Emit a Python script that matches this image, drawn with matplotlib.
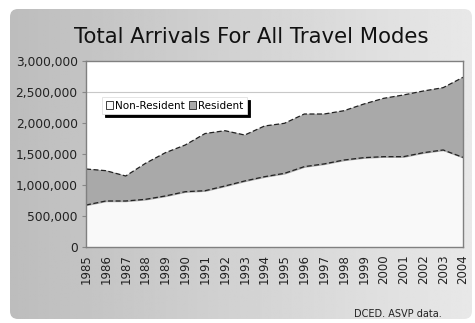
import matplotlib
matplotlib.use("Agg")
import matplotlib.pyplot as plt
import numpy as np
from matplotlib.patches import FancyBboxPatch
from matplotlib.ticker import FuncFormatter

years = list(range(1985, 2005))
non_resident = [677000, 742000, 742000, 769000, 823000, 892000, 908000, 984000, 1065000, 1134000,
                1188000, 1296000, 1340000, 1403000, 1441000, 1457000, 1457000, 1521000, 1565000, 1446000]
resident = [581000, 489000, 403000, 581000, 698000, 753000, 922000, 892000, 741000, 818000,
            807000, 849000, 805000, 795000, 865000, 941000, 995000, 995000, 1005000, 1291000]
title = "Total Arrivals For All Travel Modes"
source = "DCED. ASVP data."

W, H = 475, 323
fig = plt.figure(figsize=(W / 100, H / 100), dpi=100)
fig.patch.set_facecolor("white")

# background panel with gradient
bg = fig.add_axes([0, 0, 1, 1])
bg.set_xlim(0, W)
bg.set_ylim(H, 0)
bg.axis("off")
x0, y0, x1, y1 = 10, 9, 472, 319
grad = np.linspace(0.74, 0.91, 256)[None, :]
grad = np.repeat(grad, 2, axis=0)
im = bg.imshow(grad, cmap="gray", vmin=0, vmax=1, extent=(x0, x1, y1, y0), aspect="auto")
panel = FancyBboxPatch((x0 + 8, y0 + 8), (x1 - x0) - 16, (y1 - y0) - 16,
                       boxstyle="round,pad=8", transform=bg.transData,
                       facecolor="none", edgecolor="none")
bg.add_patch(panel)
im.set_clip_path(panel)

ax = fig.add_axes([86 / W, 1 - 247 / H, (463 - 86) / W, (247 - 61) / H])
x = np.array(years)
nr = np.array(non_resident)
tot = nr + np.array(resident)
ax.set_facecolor("white")
ax.axhline(2500000, color="#c8c8c8", lw=0.8, zorder=0)
ax.fill_between(x, 0, nr, color="#f9f9f9", zorder=1, label="Non-Resident")
ax.fill_between(x, nr, tot, color="#a9a9a9", zorder=1, label="Resident")
ax.plot(x, nr, color="#222222", lw=0.9, ls=(0, (4, 2)), zorder=2)
ax.plot(x, tot, color="#222222", lw=0.9, ls=(0, (4, 2)), zorder=2)
ax.set_xlim(1985, 2004)
ax.set_ylim(0, 3000000)
ax.set_yticks(range(0, 3000001, 500000))
ax.yaxis.set_major_formatter(FuncFormatter(lambda v, p: f"{int(v):,}"))
ax.set_xticks(years)
ax.set_xticklabels([str(y) for y in years], rotation=90, fontsize=8.5, color="#222222")
ax.tick_params(axis="y", labelsize=8.8, length=3, color="#888888", labelcolor="#222222", pad=3)
ax.tick_params(axis="x", length=0, pad=5)
for s in ax.spines.values():
    s.set_color("#808080")
    s.set_linewidth(1.0)

leg = ax.legend(loc="upper left", bbox_to_anchor=((102 - 86) / 377, (247 - 97) / 186), ncol=2,
                fontsize=7.5, frameon=True, fancybox=False,
                shadow={"color": "black", "alpha": 1, "ox": 2, "oy": -2},
                handlelength=0.7, handleheight=0.7, handletextpad=0.2, columnspacing=0.4,
                borderpad=0.35, borderaxespad=0)
leg.get_frame().set_edgecolor("#e0e0e0")
leg.get_frame().set_linewidth(0.6)
for h in leg.legend_handles:
    h.set_edgecolor("#222222")
    h.set_linewidth(0.6)

fig.text(251 / W, 1 - 37 / H, title, ha="center", va="center", fontsize=15.3, color="#111111")
fig.text(442 / W, 1 - 314 / H, source, ha="right", va="center", fontsize=7, color="#222222")

fig.savefig("out.png", dpi=100)
